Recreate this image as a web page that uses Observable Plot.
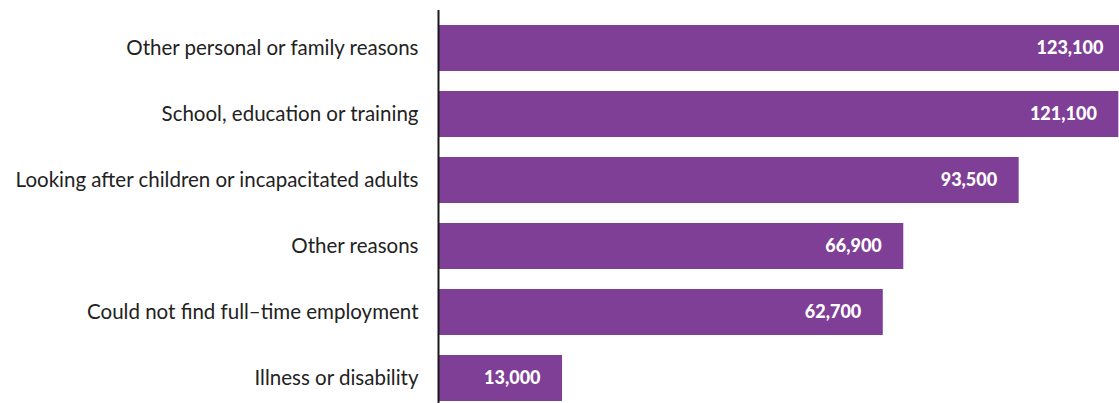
<!DOCTYPE html>
<html>
<head>
<meta charset="utf-8">
<script src="https://cdn.jsdelivr.net/npm/d3@7"></script>
<script src="https://cdn.jsdelivr.net/npm/@observablehq/plot@0.6"></script>
<style>
  html, body { margin: 0; padding: 0; background: #fff; overflow: hidden; }
  #chart svg { display: block; }
</style>
</head>
<body>
<div id="chart"></div>
<script>
const categories = [
  "Other personal or family reasons",
  "School, education or training",
  "Looking after children or incapacitated adults",
  "Other reasons",
  "Could not find full–time employment",
  "Illness or disability"
];
const values = [123100, 121100, 93500, 66900, 62700, 13000];

const data = categories.map((c, i) => ({reason: c, value: values[i]}));
const fmt = d3.format(",");

const chart = Plot.plot({
  width: 1119,
  height: 403,
  marginLeft: 438,
  marginRight: 0,
  marginTop: 10,
  marginBottom: 0,
  style: {fontFamily: "Lato, sans-serif", fontSize: "20.5px", color: "#222", background: "#fff"},
  x: {type: "symlog", constant: 55000, domain: [0, 121300], axis: null},
  y: {domain: categories, paddingInner: 0.303, paddingOuter: 0.12, align: 0.88, label: null},
  marks: [
    Plot.barX(data, {y: "reason", x: "value", fill: "#7f3f97", clip: true}),
    Plot.ruleX([0], {stroke: "#1a1a1a", strokeWidth: 2}),
    Plot.axisY({tickSize: 0, tickPadding: 20, fontSize: 20.5, label: null}),
    Plot.text(data, {
      y: "reason", x: "value", text: d => fmt(d.value),
      textAnchor: "end", dx: -22, fill: "white",
      fontWeight: 900, fontSize: 18
    })
  ]
});
document.getElementById("chart").appendChild(chart);
</script>
</body>
</html>
